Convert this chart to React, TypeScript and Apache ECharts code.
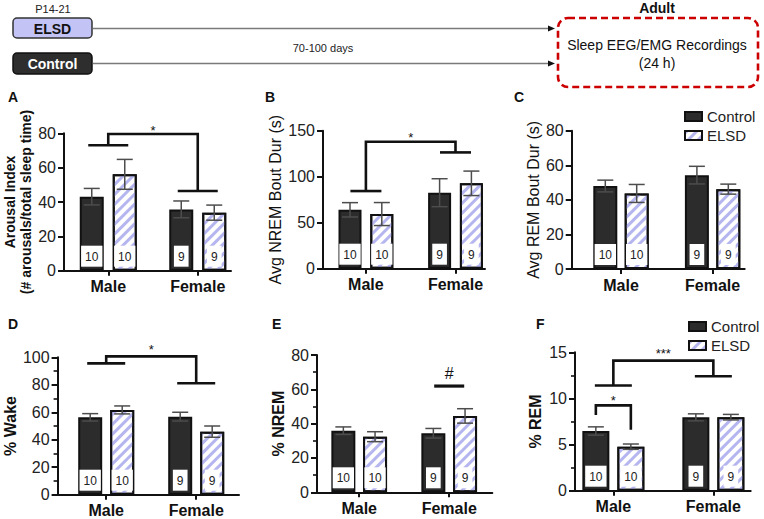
import React, { useEffect, useRef } from 'react';
import * as echarts from 'echarts';

const FONT = 'Arial, "Liberation Sans", Helvetica, sans-serif';

// ---------------- data ----------------
const groups = ['Male', 'Female'];
const nPerGroup = [10, 9];

// A – arousal index
const arousalControl = [43.1, 35.7];
const arousalControlSem = [4.8, 4.9];
const arousalElsd = [56.1, 33.8];
const arousalElsdSem = [8.7, 4.4];
// B – avg NREM bout duration (s)
const nremBoutControl = [64, 82.6];
const nremBoutControlSem = [7.8, 15.2];
const nremBoutElsd = [59.4, 92.8];
const nremBoutElsdSem = [12.5, 13.3];
// C – avg REM bout duration (s)
const remBoutControl = [48, 54.3];
const remBoutControlSem = [3.4, 5.1];
const remBoutElsd = [43.7, 46.2];
const remBoutElsdSem = [5.2, 2.9];
// D – % wake
const wakeControl = [56.3, 56.8];
const wakeControlSem = [2.7, 3.2];
const wakeElsd = [61.7, 45.9];
const wakeElsdSem = [2.9, 4.1];
// E – % NREM
const nremControl = [35.9, 34.4];
const nremControlSem = [2.2, 2.8];
const nremElsd = [32.4, 44.5];
const nremElsdSem = [2.9, 4.2];
// F – % REM
const remControl = [6.47, 7.95];
const remControlSem = [0.45, 0.38];
const remElsd = [4.77, 7.97];
const remElsdSem = [0.29, 0.3];

// significance marks (data units)
const sigA = [{ kind: 'group', leftY: 73, rightY: 46.4, topY: 79.6, textY: 83.5, text: '*' }];
const sigB = [{ kind: 'group', leftY: 84.4, rightY: 126.4, topY: 138, textY: 146, text: '*' }];
const sigC: any[] = [];
const sigD = [{ kind: 'group', leftY: 95.6, rightY: 81.1, topY: 100.7, textY: 107.8, text: '*' }];
const sigE = [{ kind: 'line', cat: 1, y: 61.9, textY: 69, text: '#' }];
const sigF = [
  { kind: 'group', leftY: 11.4, rightY: 12.4, topY: 14.1, textY: 15.2, text: '***' },
  { kind: 'pair', cat: 0, leftY: 8.2, rightY: 6.6, topY: 9.25, textY: 10.1, text: '*' },
];

// ---------------- layout ----------------
const panels = [
  {
    letter: 'A', lx: 8, ly: 98,
    name: 'Arousal Index\n(# arousals/total sleep time)', nameBold: true, nameSize: 14, nameGap: 29,
    max: 80, interval: 20, minor: false,
    left: 64, top: 133.3, height: 137.4, lineLen: 167, dataLeft: 63.5, dataWidth: 179,
    barW: 24, cc: 33, half: 20,
    ctrl: arousalControl, ctrlSem: arousalControlSem, elsd: arousalElsd, elsdSem: arousalElsdSem, sig: sigA,
  },
  {
    letter: 'B', lx: 265, ly: 98,
    name: 'Avg NREM Bout Dur (s)', nameBold: false, nameSize: 16, nameGap: 35,
    max: 150, interval: 50, minor: false,
    left: 323, top: 130.7, height: 138, lineLen: 162, dataLeft: 321.1, dataWidth: 179.2,
    barW: 23, cc: 31.8, half: 15.5,
    ctrl: nremBoutControl, ctrlSem: nremBoutControlSem, elsd: nremBoutElsd, elsdSem: nremBoutElsdSem, sig: sigB,
  },
  {
    letter: 'C', lx: 514, ly: 98,
    name: 'Avg REM Bout Dur (s)', nameBold: false, nameSize: 16, nameGap: 24,
    max: 80, interval: 20, minor: false,
    left: 571.7, top: 130.7, height: 138.3, lineLen: 173, dataLeft: 575.2, dataWidth: 183.2,
    barW: 24, cc: 31.4, half: 18,
    ctrl: remBoutControl, ctrlSem: remBoutControlSem, elsd: remBoutElsd, elsdSem: remBoutElsdSem, sig: sigC,
  },
  {
    letter: 'D', lx: 8, ly: 325,
    name: '% Wake', nameBold: true, nameSize: 16, nameGap: 32,
    max: 100, interval: 20, minor: true,
    left: 57.3, top: 357.3, height: 137.4, lineLen: 181.7, dataLeft: 61.2, dataWidth: 180,
    barW: 24, cc: 32, half: 19,
    ctrl: wakeControl, ctrlSem: wakeControlSem, elsd: wakeElsd, elsdSem: wakeElsdSem, sig: sigD,
  },
  {
    letter: 'E', lx: 272, ly: 325,
    name: '% NREM', nameBold: true, nameSize: 16, nameGap: 30,
    max: 80, interval: 20, minor: true,
    left: 317, top: 355, height: 137.3, lineLen: 175.3, dataLeft: 314.2, dataWidth: 180,
    barW: 24, cc: 31.7, half: 15,
    ctrl: nremControl, ctrlSem: nremControlSem, elsd: nremElsd, elsdSem: nremElsdSem, sig: sigE,
  },
  {
    letter: 'F', lx: 536, ly: 325,
    name: '% REM', nameBold: true, nameSize: 16, nameGap: 31,
    max: 15, interval: 5, minor: true,
    left: 575, top: 352.3, height: 138.4, lineLen: 175.7, dataLeft: 563.35, dataWidth: 200,
    barW: 27, cc: 35, half: 18.5,
    ctrl: remControl, ctrlSem: remControlSem, elsd: remElsd, elsdSem: remElsdSem, sig: sigF,
  },
];

const INK = '#111';
const CTRL_FILL = '#2c2c2c';
const HATCH = '#b5b5ef';

function errorRender(offset: number, cap: number) {
  return (params: any, api: any) => {
    const c = api.value(0);
    const v = api.value(1);
    const e = api.value(2);
    const top = api.coord([c, v + e]);
    const bot = api.coord([c, v - e]);
    const x = top[0] + offset;
    const st = { stroke: '#4d4d4d', lineWidth: 1.5 };
    return {
      type: 'group',
      children: [
        { type: 'line', shape: { x1: x, y1: top[1], x2: x, y2: bot[1] }, style: st },
        { type: 'line', shape: { x1: x - cap, y1: top[1], x2: x + cap, y2: top[1] }, style: st },
        { type: 'line', shape: { x1: x - cap, y1: bot[1], x2: x + cap, y2: bot[1] }, style: st },
      ],
    };
  };
}

function sigRender(specs: any[], half: number, off: number) {
  return (params: any, api: any) => {
    const s = specs[params.dataIndex];
    const ls = { stroke: INK, lineWidth: 2.6, fill: null as any };
    const children: any[] = [];
    let tx = 0;
    const ty = api.coord([0, s.textY])[1];
    if (s.kind === 'group') {
      const l = api.coord([0, s.leftY]);
      const r = api.coord([1, s.rightY]);
      const t = api.coord([0, s.topY])[1];
      children.push({ type: 'line', shape: { x1: l[0] - half, y1: l[1], x2: l[0] + half, y2: l[1] }, style: ls });
      children.push({ type: 'polyline', shape: { points: [[l[0], l[1]], [l[0], t], [r[0], t], [r[0], r[1]]] }, style: ls });
      children.push({ type: 'line', shape: { x1: r[0] - half, y1: r[1], x2: r[0] + half, y2: r[1] }, style: ls });
      tx = (l[0] + r[0]) / 2;
    } else if (s.kind === 'pair') {
      const l = api.coord([s.cat, s.leftY]);
      const r = api.coord([s.cat, s.rightY]);
      const t = api.coord([s.cat, s.topY])[1];
      const xl = l[0] - off;
      const xr = r[0] + off;
      children.push({ type: 'polyline', shape: { points: [[xl, l[1]], [xl, t], [xr, t], [xr, r[1]]] }, style: ls });
      tx = (xl + xr) / 2;
    } else {
      const p = api.coord([s.cat, s.y]);
      children.push({ type: 'line', shape: { x1: p[0] - half, y1: p[1], x2: p[0] + half, y2: p[1] }, style: { ...ls, lineWidth: 3.2 } });
      tx = p[0];
    }
    const star = s.text.indexOf('*') >= 0;
    children.push({
      type: 'text',
      x: tx,
      y: ty + (star ? 3 : 0),
      style: {
        text: s.text, fontSize: star ? 13 : 16, fill: INK, align: 'center', verticalAlign: 'middle', fontFamily: FONT,
      },
    });
    return { type: 'group', children };
  };
}

function buildOption() {
  const grid: any[] = [];
  const xAxis: any[] = [];
  const yAxis: any[] = [];
  const series: any[] = [];
  const graphic: any[] = [];

  panels.forEach((p) => {
    const frameIdx = grid.length;
    grid.push({ left: p.left, top: p.top, width: p.lineLen, height: p.height, containLabel: false });
    const dataIdx = grid.length;
    grid.push({ left: p.dataLeft, top: p.top, width: p.dataWidth, height: p.height, containLabel: false });

    // frame axes (visible y axis + x axis line)
    xAxis.push({
      gridIndex: frameIdx, type: 'value', min: 0, max: 1,
      axisLine: { show: true, lineStyle: { color: INK, width: 2 } },
      axisTick: { show: false }, axisLabel: { show: false }, splitLine: { show: false },
    });
    yAxis.push({
      gridIndex: frameIdx, type: 'value', min: 0, max: p.max, interval: p.interval,
      axisLine: { show: true, lineStyle: { color: INK, width: 2 } },
      axisTick: { show: true, length: 6, lineStyle: { color: INK, width: 2 } },
      minorTick: { show: p.minor, splitNumber: 2, length: 4, lineStyle: { color: INK, width: 1.6 } },
      axisLabel: { color: '#222', fontSize: 16, margin: 8, fontFamily: FONT },
      splitLine: { show: false },
      name: p.name, nameLocation: 'middle', nameRotate: 90, nameGap: p.nameGap,
      nameTextStyle: {
        fontSize: p.nameSize, fontWeight: p.nameBold ? 'bold' : 'normal', color: INK,
        fontFamily: FONT, lineHeight: p.nameSize + 2,
      },
    });
    // data axes
    const xi = xAxis.length;
    xAxis.push({
      gridIndex: dataIdx, type: 'category', data: groups,
      axisLine: { show: false },
      axisTick: { show: true, alignWithLabel: true, length: 5, lineStyle: { color: INK, width: 2 } },
      axisLabel: { color: INK, fontSize: 16, fontWeight: 'bold', margin: 8, fontFamily: FONT },
      splitLine: { show: false },
    });
    const yi = yAxis.length;
    yAxis.push({ gridIndex: dataIdx, type: 'value', min: 0, max: p.max, show: false, splitLine: { show: false } });

    const gapPct = ((p.cc - p.barW) / p.barW) * 100 + '%';
    const nLabel = {
      show: true, position: 'insideBottom', distance: 4,
      formatter: (q: any) => String(nPerGroup[q.dataIndex]),
      backgroundColor: '#fff', padding: [4, 4, 3, 4], fontSize: 12, lineHeight: 14, color: '#222', fontFamily: FONT,
    };
    series.push({
      name: 'Control', type: 'bar', xAxisIndex: xi, yAxisIndex: yi, data: p.ctrl,
      barWidth: p.barW, barGap: gapPct,
      itemStyle: { color: CTRL_FILL, borderColor: INK, borderWidth: 2 },
      label: nLabel,
    });
    series.push({
      name: 'ELSD', type: 'bar', xAxisIndex: xi, yAxisIndex: yi, data: p.elsd,
      barWidth: p.barW, barGap: gapPct,
      itemStyle: {
        color: '#ffffff', borderColor: INK, borderWidth: 2,
        decal: {
          symbol: 'rect', symbolSize: 1, color: HATCH, dashArrayX: [1, 0], dashArrayY: [3, 4], rotation: -Math.PI / 4,
        },
      },
      label: nLabel,
    });
    const half = p.cc / 2;
    series.push({
      name: 'err-c', type: 'custom', xAxisIndex: xi, yAxisIndex: yi, z: 4, clip: false,
      data: p.ctrl.map((v, i) => [i, v, p.ctrlSem[i]]),
      renderItem: errorRender(-half, 8),
    });
    series.push({
      name: 'err-e', type: 'custom', xAxisIndex: xi, yAxisIndex: yi, z: 4, clip: false,
      data: p.elsd.map((v, i) => [i, v, p.elsdSem[i]]),
      renderItem: errorRender(half, 8),
    });
    if (p.sig.length) {
      series.push({
        name: 'sig', type: 'custom', xAxisIndex: xi, yAxisIndex: yi, z: 5, clip: false,
        data: p.sig.map((s: any) => [0, s.topY || s.y]),
        renderItem: sigRender(p.sig, p.half, half),
      });
    }
    graphic.push({
      type: 'text', left: p.lx, top: p.ly - 8,
      style: { text: p.letter, fontSize: 14, fontWeight: 'bold', fill: INK, fontFamily: FONT },
    });
  });

  // top schematic
  const txt = (x: number, y: number, text: string, size: number, bold = false, fill = INK) => ({
    type: 'text', x, y,
    style: { text, fontSize: size, fontWeight: bold ? 'bold' : 'normal', fill, align: 'center', verticalAlign: 'middle', fontFamily: FONT },
  });
  graphic.push(txt(53, 9, 'P14-21', 11, false, '#222'));
  graphic.push({ type: 'rect', shape: { x: 13, y: 18, width: 79, height: 20, r: 4 }, style: { fill: '#c3c3f6', stroke: '#333', lineWidth: 1.5 } });
  graphic.push(txt(52.5, 28.5, 'ELSD', 14, true, '#111'));
  graphic.push({ type: 'rect', shape: { x: 13, y: 53, width: 79, height: 21, r: 4 }, style: { fill: '#2e2e2e', stroke: '#111', lineWidth: 1.5 } });
  graphic.push(txt(52.5, 64, 'Control', 14, true, '#fff'));
  graphic.push({ type: 'line', shape: { x1: 93, y1: 28.5, x2: 549, y2: 28.5 }, style: { stroke: '#7a7a7a', lineWidth: 1.3 } });
  graphic.push({ type: 'polygon', shape: { points: [[548, 25.5], [555, 28.5], [548, 31.5]] }, style: { fill: '#111' } });
  graphic.push({ type: 'line', shape: { x1: 93, y1: 63.5, x2: 549, y2: 63.5 }, style: { stroke: '#7a7a7a', lineWidth: 1.3 } });
  graphic.push({ type: 'polygon', shape: { points: [[548, 60.5], [555, 63.5], [548, 66.5]] }, style: { fill: '#111' } });
  graphic.push(txt(323, 48, '70-100 days', 11, false, '#222'));
  graphic.push({ type: 'rect', shape: { x: 558, y: 18, width: 200, height: 69, r: 10 }, style: { fill: 'none', stroke: '#cc0000', lineWidth: 2.6, lineDash: [7, 4] } });
  graphic.push(txt(657, 8, 'Adult', 14, true, '#111'));
  graphic.push(txt(657, 45, 'Sleep EEG/EMG Recordings', 14, false, '#111'));
  graphic.push(txt(657, 63, '(24 h)', 14, false, '#111'));

  const legendBase = {
    orient: 'vertical', data: ['Control', 'ELSD'], icon: 'rect', itemWidth: 17, itemHeight: 9, itemGap: 4,
    selectedMode: false, textStyle: { fontSize: 15, color: '#222', fontFamily: FONT },
  };

  return {
    animation: false,
    backgroundColor: '#fff',
    textStyle: { fontFamily: FONT },
    grid, xAxis, yAxis, series, graphic,
    legend: [
      { ...legendBase, left: 679, top: 104 },
      { ...legendBase, left: 683, top: 314 },
    ],
  };
}

export default function App() {
  const ref = useRef<HTMLDivElement>(null);
  useEffect(() => {
    if (!ref.current) return;
    const chart = echarts.init(ref.current, undefined, { renderer: 'svg' });
    chart.setOption(buildOption() as any);
    return () => chart.dispose();
  }, []);
  return (
    <div
      ref={ref}
      style={{ position: 'fixed', left: 0, top: 0, width: 764, height: 519, background: '#fff' }}
    />
  );
}
